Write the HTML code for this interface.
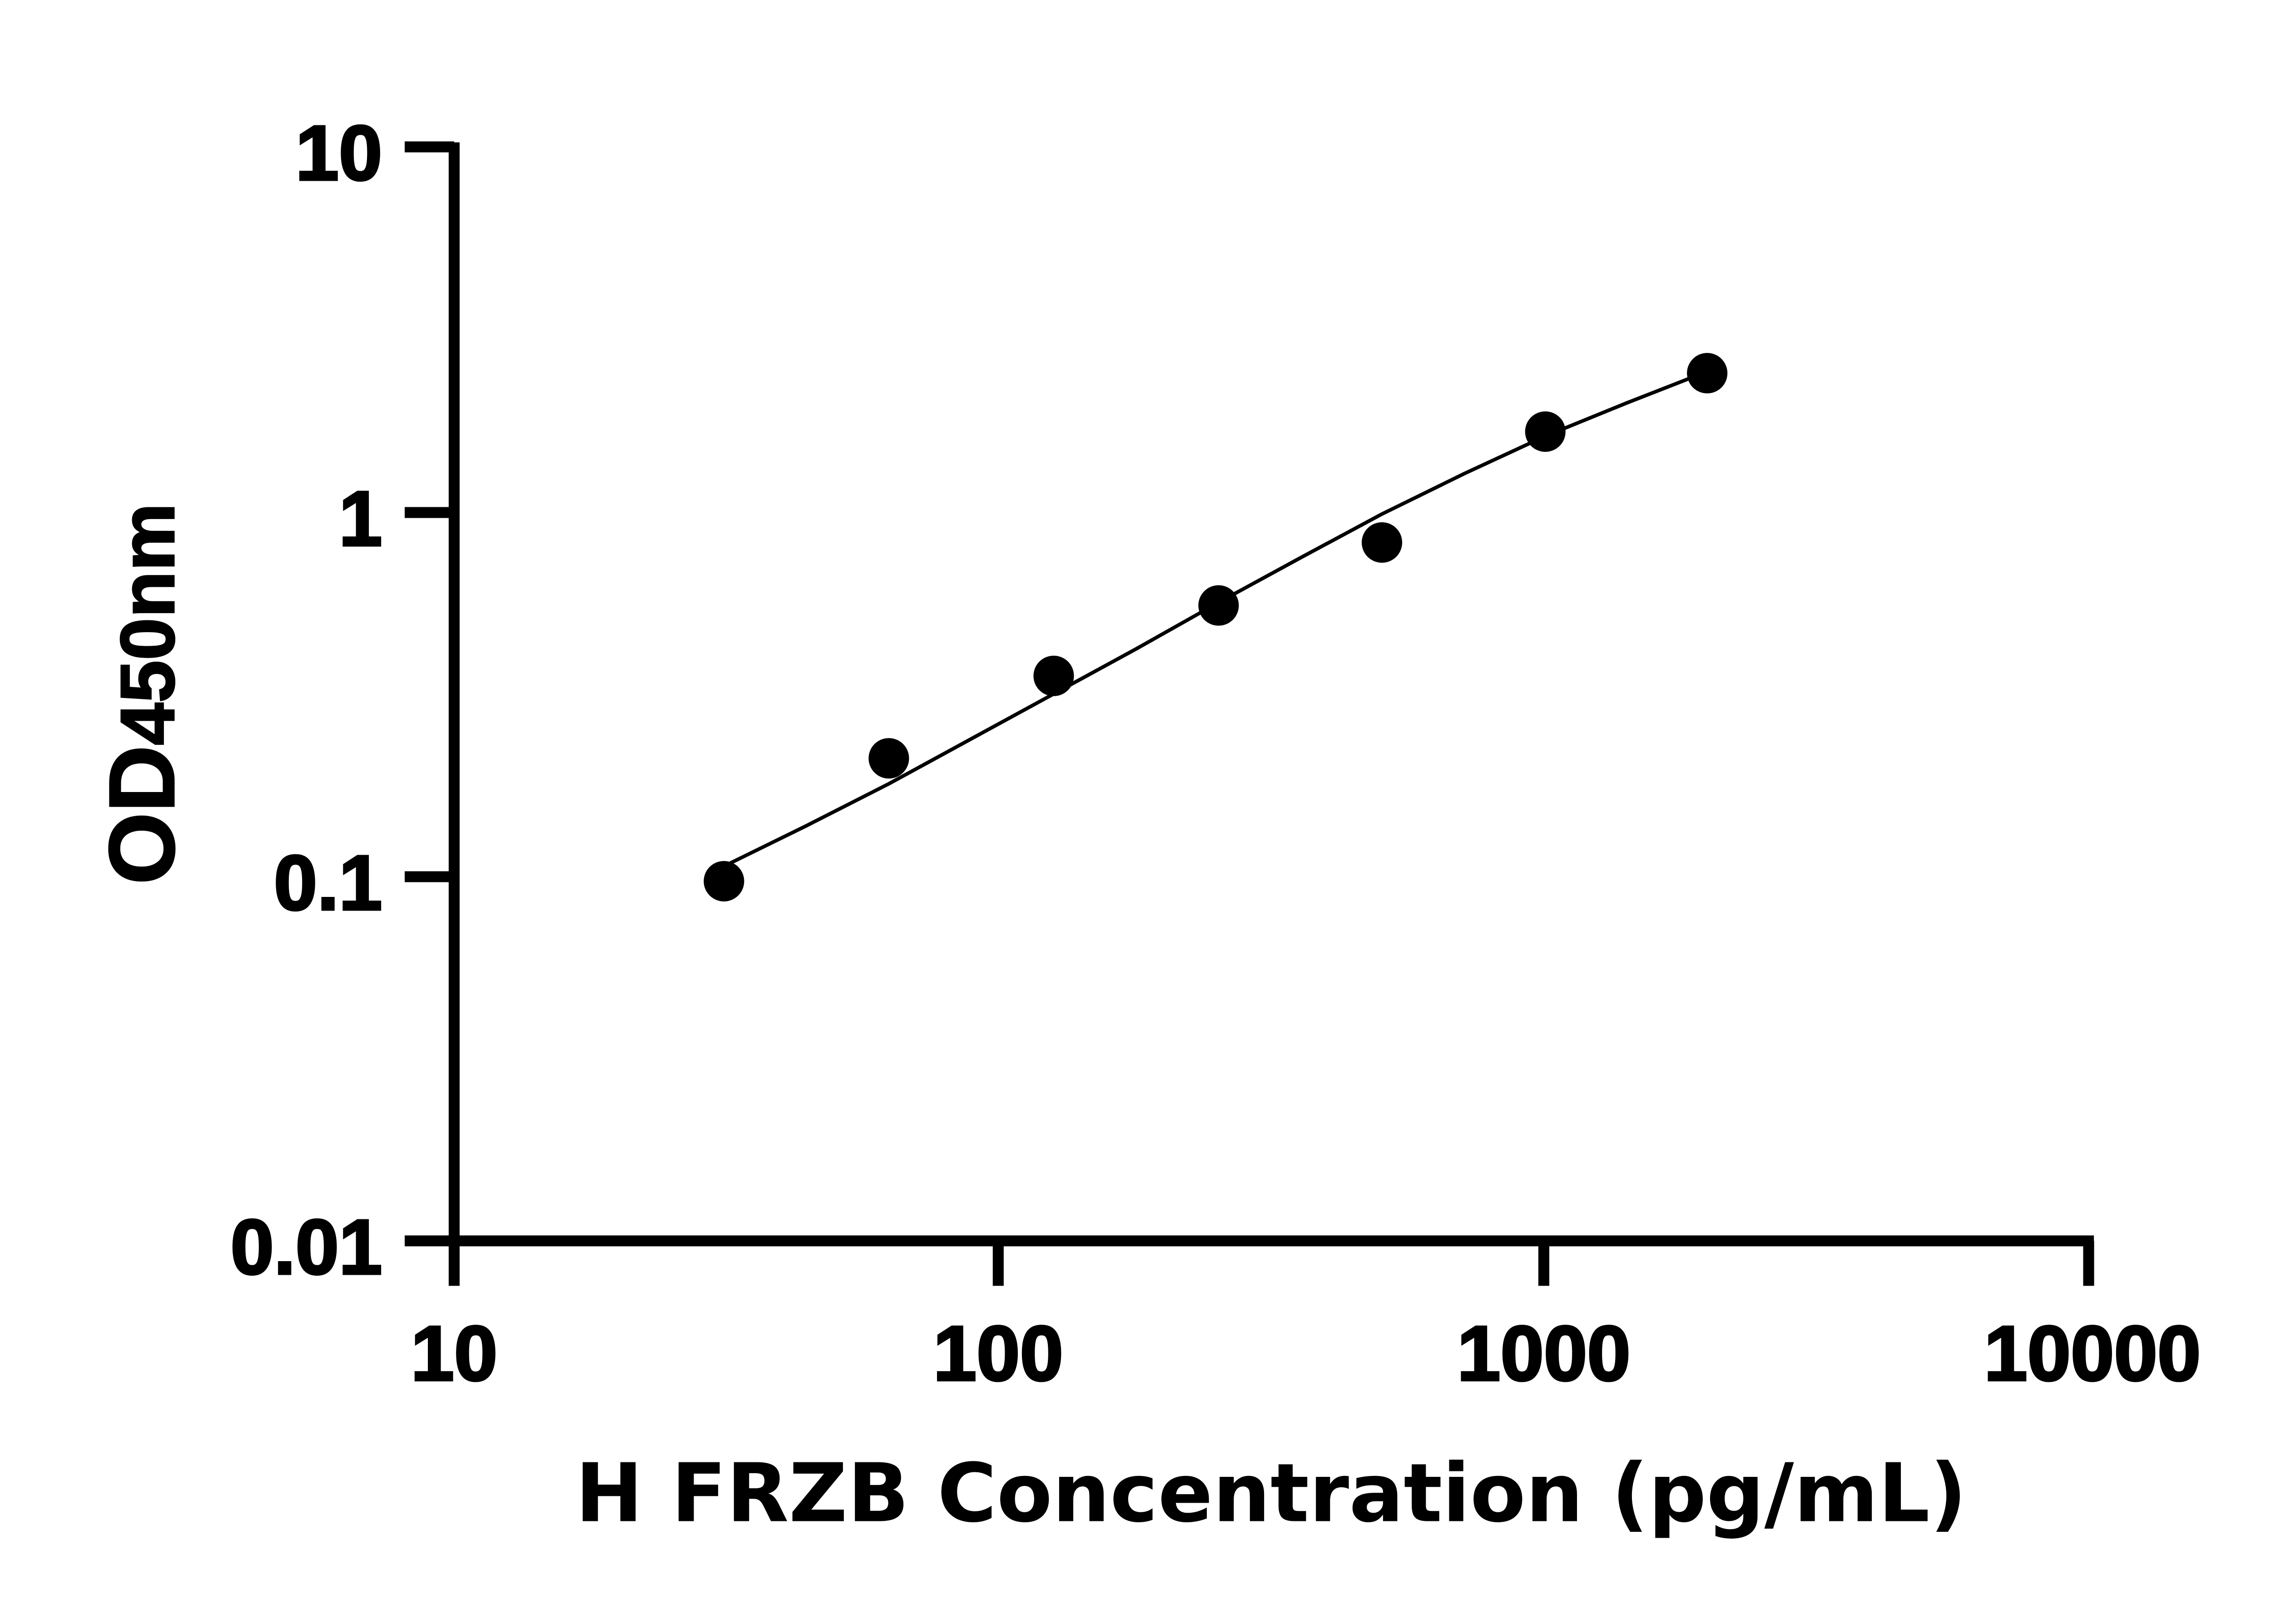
<!DOCTYPE html>
<html><head><style>html,body{margin:0;padding:0;background:#fff}svg{display:block}</style></head>
<body>
<svg width="5170" height="3576" viewBox="0 0 1566.67 1083.64" xmlns="http://www.w3.org/2000/svg">
<g stroke="#000" stroke-width="7.3" fill="none" stroke-linecap="butt">
<line x1="303" y1="95" x2="303" y2="831.6"/>
<line x1="299.4" y1="828" x2="1397" y2="828"/>
<line x1="270" y1="98" x2="303" y2="98"/>
<line x1="270" y1="342" x2="303" y2="342"/>
<line x1="270" y1="585" x2="303" y2="585"/>
<line x1="270" y1="828" x2="303" y2="828"/>
<line x1="303" y1="828" x2="303" y2="858"/>
<line x1="666" y1="828" x2="666" y2="858"/>
<line x1="1030" y1="828" x2="1030" y2="858"/>
<line x1="1393.5" y1="828" x2="1393.5" y2="858"/>
</g>
<polyline fill="none" stroke="#000" stroke-width="2.4" points="483,578 538,551 593,523 648,493 703,463 758,433 813,402 868,372 922,343 977,316 1031,291 1085,269 1131,251"/>
<g fill="#000">
<circle cx="483" cy="588" r="13.5"/>
<circle cx="593" cy="506" r="13.5"/>
<circle cx="703" cy="451" r="13.5"/>
<circle cx="813" cy="404" r="13.5"/>
<circle cx="922" cy="362" r="13.5"/>
<circle cx="1031" cy="288" r="13.5"/>
<circle cx="1139" cy="249" r="13.5"/>
</g>
<g font-family="Liberation Sans, sans-serif" font-weight="bold" font-size="52" fill="#000" stroke="#000" stroke-width="1.5">
<text x="255" y="120" text-anchor="end">10</text>
<text x="255" y="364" text-anchor="end">1</text>
<text x="255" y="607" text-anchor="end">0.1</text>
<text x="255" y="850" text-anchor="end">0.01</text>
<text x="303" y="921" text-anchor="middle">10</text>
<text x="666" y="921" text-anchor="middle">100</text>
<text x="1030" y="921" text-anchor="middle">1000</text>
<text x="1396" y="921" text-anchor="middle">10000</text>
</g>
<text x="848" y="1015" text-anchor="middle" font-family="DejaVu Sans, Liberation Sans, sans-serif" font-weight="bold" font-size="54" fill="#000">H FRZB Concentration (pg/mL)</text>
<text transform="translate(116,463) rotate(-90)" text-anchor="middle" font-family="Liberation Sans, sans-serif" font-weight="bold" fill="#000" stroke="#000" stroke-width="1"><tspan font-size="62">OD</tspan><tspan font-size="51">450nm</tspan></text>
</svg>
</body></html>
